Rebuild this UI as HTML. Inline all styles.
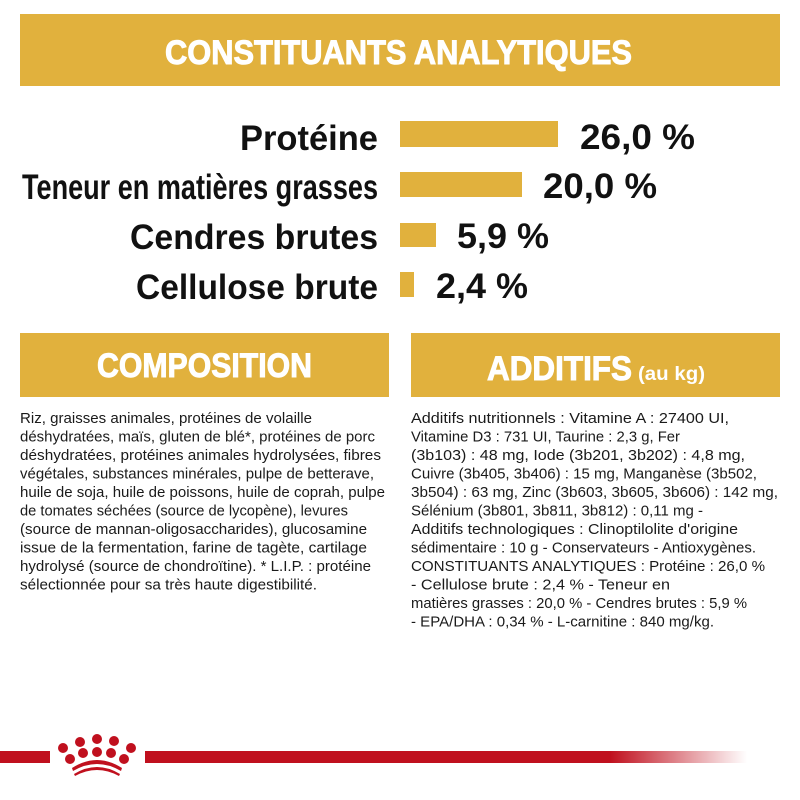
<!DOCTYPE html>
<html><head><meta charset="utf-8"><style>
html,body{margin:0;padding:0;background:#fff;width:800px;height:800px;overflow:hidden}
svg text{font-family:"Liberation Sans",sans-serif}
</style></head><body>
<svg width="800" height="800" viewBox="0 0 800 800" xmlns="http://www.w3.org/2000/svg">
<defs><linearGradient id="g" x1="0" x2="1"><stop offset="0" stop-color="#c0101e"/><stop offset="1" stop-color="#c0101e" stop-opacity="0"/></linearGradient></defs>
<rect x="20" y="14" width="760" height="72" fill="#e1b13d"/>
<text x="165" y="64" font-size="34" font-weight="bold" fill="#fff" stroke="#fff" stroke-width="1" textLength="467" lengthAdjust="spacingAndGlyphs">CONSTITUANTS ANALYTIQUES</text>
<g font-weight="bold" font-size="35" fill="#111">
<g text-anchor="end">
<text x="378" y="150" textLength="138" lengthAdjust="spacingAndGlyphs">Protéine</text>
<text x="378" y="199" textLength="356" lengthAdjust="spacingAndGlyphs">Teneur en matières grasses</text>
<text x="378" y="249" textLength="248" lengthAdjust="spacingAndGlyphs">Cendres brutes</text>
<text x="378" y="299" textLength="242" lengthAdjust="spacingAndGlyphs">Cellulose brute</text>
</g>
</g>
<g fill="#e1b13d">
<rect x="400" y="121" width="158" height="26"/>
<rect x="400" y="172" width="122" height="25"/>
<rect x="400" y="223" width="36" height="24"/>
<rect x="400" y="272" width="14" height="25"/>
</g>
<g font-weight="bold" font-size="35" fill="#111">
<text x="580" y="149" textLength="115" lengthAdjust="spacingAndGlyphs">26,0 %</text>
<text x="543" y="198" textLength="114" lengthAdjust="spacingAndGlyphs">20,0 %</text>
<text x="457" y="248" textLength="92" lengthAdjust="spacingAndGlyphs">5,9 %</text>
<text x="436" y="298" textLength="92" lengthAdjust="spacingAndGlyphs">2,4 %</text>
</g>
<rect x="20" y="333" width="369" height="64" fill="#e1b13d"/>
<rect x="411" y="333" width="369" height="64" fill="#e1b13d"/>
<text x="97" y="377" font-size="34" font-weight="bold" fill="#fff" stroke="#fff" stroke-width="1" textLength="215" lengthAdjust="spacingAndGlyphs">COMPOSITION</text>
<text x="487" y="380" font-size="34" font-weight="bold" fill="#fff" stroke="#fff" stroke-width="1" textLength="145" lengthAdjust="spacingAndGlyphs">ADDITIFS</text>
<text x="638" y="380" font-size="19" font-weight="bold" fill="#fff" textLength="67" lengthAdjust="spacingAndGlyphs">(au kg)</text>
<g font-size="15" fill="#1a1a1a">
<text x="20" y="423" textLength="292" lengthAdjust="spacingAndGlyphs">Riz, graisses animales, protéines de volaille</text>
<text x="20" y="441.5" textLength="355" lengthAdjust="spacingAndGlyphs">déshydratées, maïs, gluten de blé*, protéines de porc</text>
<text x="20" y="460" textLength="361" lengthAdjust="spacingAndGlyphs">déshydratées, protéines animales hydrolysées, fibres</text>
<text x="20" y="478.5" textLength="354" lengthAdjust="spacingAndGlyphs">végétales, substances minérales, pulpe de betterave,</text>
<text x="20" y="497" textLength="365" lengthAdjust="spacingAndGlyphs">huile de soja, huile de poissons, huile de coprah, pulpe</text>
<text x="20" y="515.5" textLength="328" lengthAdjust="spacingAndGlyphs">de tomates séchées (source de lycopène), levures</text>
<text x="20" y="534" textLength="347" lengthAdjust="spacingAndGlyphs">(source de mannan-oligosaccharides), glucosamine</text>
<text x="20" y="552.5" textLength="347" lengthAdjust="spacingAndGlyphs">issue de la fermentation, farine de tagète, cartilage</text>
<text x="20" y="571" textLength="351" lengthAdjust="spacingAndGlyphs">hydrolysé (source de chondroïtine). * L.I.P. : protéine</text>
<text x="20" y="589.5" textLength="297" lengthAdjust="spacingAndGlyphs">sélectionnée pour sa très haute digestibilité.</text>
<text x="411" y="423" textLength="318" lengthAdjust="spacingAndGlyphs">Additifs nutritionnels : Vitamine A : 27400 UI,</text>
<text x="411" y="441.5" textLength="269" lengthAdjust="spacingAndGlyphs">Vitamine D3 : 731 UI, Taurine : 2,3 g, Fer</text>
<text x="411" y="460" textLength="334" lengthAdjust="spacingAndGlyphs">(3b103) : 48 mg, Iode (3b201, 3b202) : 4,8 mg,</text>
<text x="411" y="478.5" textLength="346" lengthAdjust="spacingAndGlyphs">Cuivre (3b405, 3b406) : 15 mg, Manganèse (3b502,</text>
<text x="411" y="497" textLength="367" lengthAdjust="spacingAndGlyphs">3b504) : 63 mg, Zinc (3b603, 3b605, 3b606) : 142 mg,</text>
<text x="411" y="515.5" textLength="292" lengthAdjust="spacingAndGlyphs">Sélénium (3b801, 3b811, 3b812) : 0,11 mg -</text>
<text x="411" y="534" textLength="327" lengthAdjust="spacingAndGlyphs">Additifs technologiques : Clinoptilolite d'origine</text>
<text x="411" y="552.5" textLength="345" lengthAdjust="spacingAndGlyphs">sédimentaire : 10 g - Conservateurs - Antioxygènes.</text>
<text x="411" y="571" textLength="354" lengthAdjust="spacingAndGlyphs">CONSTITUANTS ANALYTIQUES : Protéine : 26,0 %</text>
<text x="411" y="589.5" textLength="259" lengthAdjust="spacingAndGlyphs">- Cellulose brute : 2,4 % - Teneur en</text>
<text x="411" y="608" textLength="336" lengthAdjust="spacingAndGlyphs">matières grasses : 20,0 % - Cendres brutes : 5,9 %</text>
<text x="411" y="626.5" textLength="303" lengthAdjust="spacingAndGlyphs">- EPA/DHA : 0,34 % - L-carnitine : 840 mg/kg.</text>
</g>
<rect x="0" y="751" width="50" height="12" fill="#c0101e"/>
<rect x="145" y="751" width="466" height="12" fill="#c0101e"/>
<rect x="610" y="751" width="137" height="12" fill="url(#g)"/>
<g fill="#c0101e">
<circle cx="63" cy="748" r="5"/>
<circle cx="80" cy="742" r="5"/>
<circle cx="97" cy="739" r="5"/>
<circle cx="114" cy="741" r="5"/>
<circle cx="131" cy="748" r="5"/>
<circle cx="70" cy="759" r="5"/>
<circle cx="83" cy="753" r="5"/>
<circle cx="97" cy="752" r="5"/>
<circle cx="111" cy="753" r="5"/>
<circle cx="124" cy="759" r="5"/>
<path d="M72 768 Q97 752 122 768 L121 771 Q97 757 73 771Z"/>
<path d="M74 774 Q97 760 120 774 L119 776 Q97 764 75 776Z"/>
</g>
</svg>
</body></html>
